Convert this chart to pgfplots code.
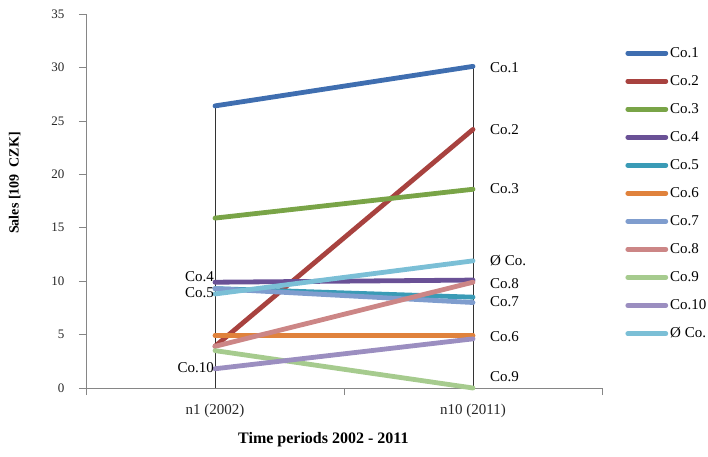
\documentclass[border=0pt]{standalone}
\usepackage{pgfplots}
\pgfplotsset{compat=1.18}
\usepackage{fontspec}
\setmainfont{Liberation Serif}
\definecolor{c1}{HTML}{3F6EB0}
\definecolor{c2}{HTML}{A8423F}
\definecolor{c3}{HTML}{79A447}
\definecolor{c4}{HTML}{6A5196}
\definecolor{c5}{HTML}{3A9BB6}
\definecolor{c6}{HTML}{E0823C}
\definecolor{c7}{HTML}{7F9DCE}
\definecolor{c8}{HTML}{CC8686}
\definecolor{c9}{HTML}{A6CB8E}
\definecolor{c10}{HTML}{9B8EC0}
\definecolor{c11}{HTML}{7BBFD6}
\definecolor{axgray}{HTML}{868686}
\begin{document}
\begin{tikzpicture}
\useasboundingbox (-86pt,-68pt) rectangle (622pt,388pt);
\begin{axis}[
  scale only axis,
  width=516pt, height=374pt,
  xmin=-0.5, xmax=1.5,
  ymin=0, ymax=35,
  ytick={0,5,...,35},
  xtick={-0.5,0.5,1.5},
  xticklabels={},
  extra x ticks={0,1},
  extra x tick labels={n1 (2002),n10 (2011)},
  extra x tick style={major tick length=0pt},
  major tick length=7pt,
  tick align=outside,
  tick style={axgray, line width=0.6pt},
  axis x line*=bottom,
  axis y line*=left,
  axis line style={axgray, line width=0.8pt},
  /pgf/number format/assume math mode=true,
  yticklabel style={font=\fontsize{13}{15}\selectfont, text=black!85, xshift=-11pt},
  xticklabel style={font=\fontsize{15}{17}\selectfont, text=black!85, yshift=-13pt},
  xlabel={\textbf{Time periods 2002 - 2011}},
  xlabel style={at={(axis description cs:0.46,-0.139)}, anchor=center, font=\fontsize{16}{18}\selectfont},
  ylabel={\textbf{Sales [109\ \ CZK]}},
  ylabel style={at={(axis description cs:-0.138,0.548)}, anchor=center, font=\fontsize{14}{16}\selectfont},
  legend style={draw=none, fill=none, at={(1.045,0.9166)}, anchor=north west,
    font=\fontsize{15}{17}\selectfont, row sep=12.6pt, inner xsep=0pt, inner ysep=0pt,
    /tikz/every even column/.append style={column sep=0pt}},
  legend cell align=left,
  legend image code/.code={\draw[#1, line cap=round] (0pt,0pt) -- (38pt,0pt);},
  every axis plot/.append style={line width=4.8pt, line cap=round},
  clip=false,
]
\addplot[forget plot, black!80, line width=0.8pt, line cap=butt] coordinates {(0,0) (0,26.4)};
\addplot[forget plot, black!80, line width=0.8pt, line cap=butt] coordinates {(1,0) (1,30.1)};
\addplot[c1] coordinates {(0,26.4) (1,30.1)};
\addplot[c2] coordinates {(0,3.9) (1,24.2)};
\addplot[c3] coordinates {(0,15.9) (1,18.6)};
\addplot[c4] coordinates {(0,9.9) (1,10.1)};
\addplot[c5] coordinates {(0,9.3) (1,8.5)};
\addplot[c6] coordinates {(0,4.9) (1,4.9)};
\addplot[c7] coordinates {(0,9.3) (1,8.0)};
\addplot[c8] coordinates {(0,3.9) (1,9.9)};
\addplot[c9] coordinates {(0,3.5) (1,0)};
\addplot[c10] coordinates {(0,1.8) (1,4.6)};
\addplot[c11] coordinates {(0,8.8) (1,11.9)};
\legend{Co.1,Co.2,Co.3,Co.4,Co.5,Co.6,Co.7,Co.8,Co.9,Co.10,Ø Co.}
\begin{scope}[every node/.style={font=\fontsize{15}{17}\selectfont, inner sep=0pt}]
\node[anchor=west] at (axis cs:1.066,30.0) {Co.1};
\node[anchor=west] at (axis cs:1.066,24.2) {Co.2};
\node[anchor=west] at (axis cs:1.066,18.7) {Co.3};
\node[anchor=west] at (axis cs:1.066,11.9) {Ø Co.};
\node[anchor=west] at (axis cs:1.066,9.8) {Co.8};
\node[anchor=west] at (axis cs:1.066,8.1) {Co.7};
\node[anchor=west] at (axis cs:1.066,4.8) {Co.6};
\node[anchor=west] at (axis cs:1.066,1.1) {Co.9};
\node[anchor=east] at (axis cs:-0.004,10.4) {Co.4};
\node[anchor=east] at (axis cs:-0.004,8.9) {Co.5};
\node[anchor=east] at (axis cs:-0.004,1.9) {Co.10};
\end{scope}
\end{axis}
\end{tikzpicture}
\end{document}
